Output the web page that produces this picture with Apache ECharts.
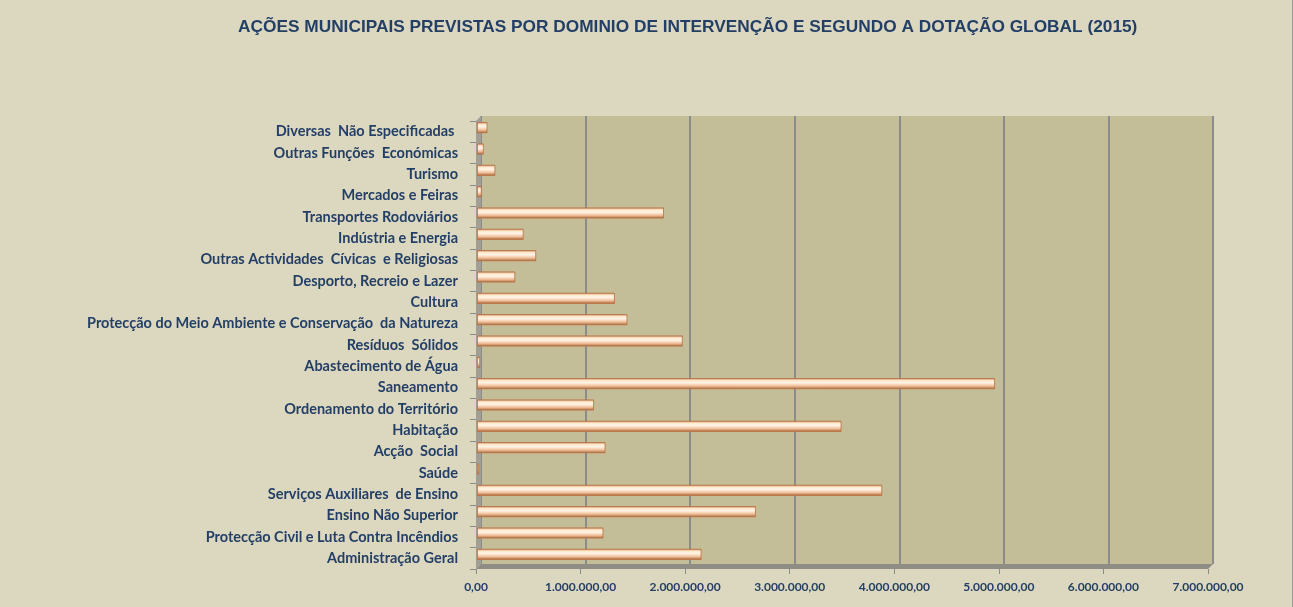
<!DOCTYPE html>
<html>
<head>
<meta charset="utf-8">
<script src="https://cdn.jsdelivr.net/npm/echarts@6/dist/echarts.min.js"></script>
<style>
    html, body { margin: 0; padding: 0; background: #dcd8c0; }
    #main { width: 1292px; height: 607px; border-right: 1px solid #9a9a9a; }
</style>
</head>
<body>
<div id="main"></div>
<script>
// categorias (de baixo para cima, como na folha)
var categorias = [
    'Administração Geral',
    'Protecção Civil e Luta Contra Incêndios',
    'Ensino Não Superior',
    'Serviços Auxiliares  de Ensino',
    'Saúde',
    'Acção  Social',
    'Habitação',
    'Ordenamento do Território',
    'Saneamento',
    'Abastecimento de Água',
    'Resíduos  Sólidos',
    'Protecção do Meio Ambiente e Conservação  da Natureza',
    'Cultura',
    'Desporto, Recreio e Lazer',
    'Outras Actividades  Cívicas  e Religiosas',
    'Indústria e Energia',
    'Transportes Rodoviários',
    'Mercados e Feiras',
    'Turismo',
    'Outras Funções  Económicas',
    'Diversas  Não Especificadas '
];
var dotacao = [
    2150000, 1210000, 2670000, 3880000, 20000, 1230000, 3490000,
    1120000, 4960000, 30000, 1970000, 1440000, 1320000, 366000,
    566000, 446000, 1790000, 45000, 175000, 64000, 100000
];
var eixoMax = 7000000;
var eixoPasso = 1000000;

// layout (frente e parede do fundo do efeito 3D)
var L = 476, R = 84, T = 121, B = 38, D = 5, UP = 4;
var W = 1292, H = 607;

var corTexto = '#243f66';

function fmt(v) {
    var s = Math.round(v).toString().replace(/\B(?=(\d{3})+(?!\d))/g, '.');
    return s + ',00';
}

var myChart = echarts.init(document.getElementById('main'));
var option = {
    backgroundColor: '#dcd8c0',
    animation: false,
    title: {
        text: 'AÇÕES MUNICIPAIS PREVISTAS POR DOMINIO DE INTERVENÇÃO E SEGUNDO A DOTAÇÃO GLOBAL (2015)',
        left: 233,
        top: 14,
        textStyle: {
            fontFamily: 'Liberation Sans Narrow, Arial Narrow, sans-serif',
            fontWeight: 'bold',
            fontSize: 17.3,
            color: corTexto
        }
    },
    grid: [
        { left: L, right: R, top: T, bottom: B },
        { left: L + D, right: R - D, top: T - D, bottom: B + D, show: true, backgroundColor: '#c4be98', borderWidth: 0 },
        { left: L + 1, right: R, top: T - UP, bottom: B + UP }
    ],
    xAxis: [
        {
            gridIndex: 0, type: 'value', min: 0, max: eixoMax, interval: eixoPasso,
            axisLine: { show: false },
            axisTick: { show: true, length: 5, lineStyle: { color: '#8a8a8a' } },
            splitLine: { show: false },
            axisLabel: {
                formatter: fmt, margin: 12,
                fontFamily: 'Lato', fontWeight: 'bold', fontSize: 12, color: corTexto
            }
        },
        {
            gridIndex: 1, type: 'value', min: 0, max: eixoMax, interval: eixoPasso,
            axisLine: { show: false }, axisTick: { show: false }, axisLabel: { show: false },
            splitLine: { show: true, lineStyle: { color: '#8c8c8c', width: 2 } }
        },
        {
            gridIndex: 2, type: 'value', min: 0, max: eixoMax, interval: eixoPasso, show: false
        }
    ],
    yAxis: [
        {
            gridIndex: 0, type: 'category', data: categorias,
            axisLine: { show: false },
            axisTick: { show: true, length: 6, lineStyle: { color: '#8a8a8a' } },
            axisLabel: {
                margin: 18,
                fontFamily: 'Lato', fontWeight: 'bold', fontSize: 14.5, color: corTexto
            }
        },
        { gridIndex: 1, type: 'category', data: categorias, show: false },
        { gridIndex: 2, type: 'category', data: categorias, show: false }
    ],
    series: [
        {
            type: 'bar',
            xAxisIndex: 2, yAxisIndex: 2,
            data: dotacao,
            barWidth: 11,
            z: 5,
            itemStyle: {
                borderColor: '#b96f3c',
                borderWidth: 0.8,
                color: new echarts.graphic.LinearGradient(0, 0, 0, 1, [
                    { offset: 0, color: '#c4865a' },
                    { offset: 0.2, color: '#ffe6cc' },
                    { offset: 0.42, color: '#fff4e6' },
                    { offset: 0.7, color: '#f2c29c' },
                    { offset: 1, color: '#a3623a' }
                ])
            }
        }
    ],
    graphic: [
        {
            type: 'polygon', z: 3, silent: true,
            shape: { points: [[L, T], [L + D, T - D], [L + D, H - B - D], [L, H - B]] },
            style: { fill: '#a29e94' }
        },
        {
            type: 'polygon', z: 3, silent: true,
            shape: { points: [[L, H - B], [L + D, H - B - D], [W - R + D, H - B - D], [W - R, H - B]] },
            style: { fill: '#8e8c84' }
        }
    ]
};
myChart.setOption(option);
</script>
</body>
</html>
